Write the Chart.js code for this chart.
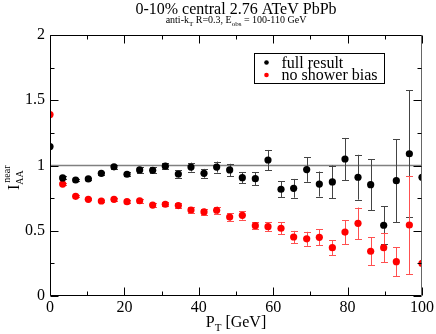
<!DOCTYPE html>
<html><head><meta charset="utf-8">
<script src="https://cdn.jsdelivr.net/npm/chart.js@4/dist/chart.umd.min.js"></script>
<style>html,body{margin:0;padding:0;background:#fff}#wrap{width:436px;height:334px;position:relative}</style>
</head><body><div id="wrap"><canvas id="c" width="436" height="334"></canvas></div>
<script>
// ---- data ----
const ptValues = [0, 3.4, 6.9, 10.3, 13.8, 17.2, 20.7, 24.1, 27.6, 31.0, 34.5, 37.9, 41.4, 44.8, 48.3, 51.7, 55.2, 58.6, 62.1, 65.5, 69.0, 72.4, 75.9, 79.3, 82.8, 86.2, 89.7, 93.1, 96.6, 100];
const fullResult = [1.145, 0.905, 0.889, 0.897, 0.94, 0.99, 0.933, 0.966, 0.963, 0.995, 0.935, 0.988, 0.94, 0.988, 0.966, 0.907, 0.899, 1.042, 0.818, 0.825, 0.969, 0.858, 0.874, 1.05, 0.91, 0.853, 0.542, 0.884, 1.09, 0.91];
const fullErr = [0.0, 0.012, 0.01, 0.01, 0.013, 0.014, 0.016, 0.02, 0.024, 0.025, 0.028, 0.034, 0.034, 0.042, 0.047, 0.042, 0.05, 0.077, 0.061, 0.072, 0.094, 0.096, 0.126, 0.161, 0.172, 0.194, 0.144, 0.318, 0.485, 0.0];
const noBias = [1.39, 0.858, 0.764, 0.741, 0.728, 0.741, 0.723, 0.73, 0.697, 0.703, 0.693, 0.659, 0.644, 0.657, 0.605, 0.618, 0.539, 0.531, 0.519, 0.452, 0.438, 0.45, 0.37, 0.49, 0.557, 0.343, 0.37, 0.263, 0.544, 0.25];
const noBiasErr = [0.0, 0.008, 0.008, 0.008, 0.01, 0.01, 0.012, 0.014, 0.015, 0.015, 0.018, 0.02, 0.025, 0.028, 0.028, 0.033, 0.028, 0.036, 0.046, 0.047, 0.054, 0.063, 0.057, 0.092, 0.121, 0.107, 0.11, 0.11, 0.375, 0.0];
const xTicks = [0, 20, 40, 60, 80, 100];
const xMinorTicks = [10, 30, 50, 70, 90];
const yTicks = [0, 0.5, 1, 1.5, 2];
const yMinorTicks = [0.25, 0.75, 1.25, 1.75];
const seriesNames = ['full result', 'no shower bias'];
const seriesColors = ['#000000', '#ff0000'];
const barColors = ['#444444', '#ff5050'];
const referenceLine = 1;

const SERIF = '"Liberation Serif", "DejaVu Serif", serif';

function toPoints(xs, ys) { return xs.map((x, i) => ({x: x, y: ys[i]})); }

const errorBars = {
  id: 'errorBars',
  beforeDatasetsDraw(chart) {
    const ctx = chart.ctx, xs = chart.scales.x, ys = chart.scales.y, a = chart.chartArea;
    ctx.save();
    // reference line at 1
    ctx.strokeStyle = '#808080';
    ctx.lineWidth = 1.6;
    ctx.beginPath();
    const yl = ys.getPixelForValue(referenceLine);
    ctx.moveTo(a.left, yl); ctx.lineTo(a.right, yl); ctx.stroke();
    const errs = [fullErr, noBiasErr];
    chart.data.datasets.forEach((ds, di) => {
      ctx.strokeStyle = barColors[di];
      ctx.lineWidth = 1;
      ds.data.forEach((p, i) => {
        const e = errs[di][i];
        if (!e) return;
        const px = Math.round(xs.getPixelForValue(p.x)) + 0.5;
        const y1 = ys.getPixelForValue(p.y - e), y2 = ys.getPixelForValue(p.y + e);
        ctx.beginPath();
        ctx.moveTo(px, y1); ctx.lineTo(px, y2);
        ctx.moveTo(px - 3.5, Math.round(y1) + 0.5); ctx.lineTo(px + 3.5, Math.round(y1) + 0.5);
        ctx.moveTo(px - 3.5, Math.round(y2) + 0.5); ctx.lineTo(px + 3.5, Math.round(y2) + 0.5);
        ctx.stroke();
      });
    });
    ctx.restore();
  }
};

function drawParts(ctx, parts, x, y, align) {
  // parts: [text, size, dy]
  let total = 0;
  parts.forEach(p => { ctx.font = p[1] + 'px ' + SERIF; total += ctx.measureText(p[0]).width; });
  let cx = align === 'center' ? x - total / 2 : x;
  parts.forEach(p => {
    ctx.font = p[1] + 'px ' + SERIF;
    ctx.fillText(p[0], cx, y + p[2]);
    cx += ctx.measureText(p[0]).width;
  });
}

const frameAndText = {
  id: 'frameAndText',
  afterDraw(chart) {
    const ctx = chart.ctx, xs = chart.scales.x, ys = chart.scales.y, a = chart.chartArea;
    ctx.save();
    const L = Math.round(a.left) + 0.5, R = Math.round(a.right) - 0.5, T = Math.round(a.top) + 0.5, B = Math.round(a.bottom) - 0.5;
    ctx.lineWidth = 1;
    ctx.strokeStyle = '#000';
    ctx.beginPath();
    ctx.moveTo(L, T); ctx.lineTo(R, T);
    ctx.moveTo(L, T); ctx.lineTo(L, B); ctx.lineTo(R, B);
    ctx.stroke();
    ctx.strokeStyle = '#666';
    ctx.beginPath(); ctx.moveTo(R, T); ctx.lineTo(R, B); ctx.stroke();
    // ticks inward
    ctx.strokeStyle = '#000';
    ctx.beginPath();
    const xt = (v, len) => {
      const px = Math.round(xs.getPixelForValue(v)) + 0.5;
      ctx.moveTo(px, B); ctx.lineTo(px, B - len);
      ctx.moveTo(px, T); ctx.lineTo(px, T + len);
    };
    const yt = (v, len) => {
      const py = Math.round(ys.getPixelForValue(v)) + 0.5;
      ctx.moveTo(L, py); ctx.lineTo(L + len, py);
      ctx.moveTo(R, py); ctx.lineTo(R - len, py);
    };
    xTicks.forEach(v => xt(v, 8)); xMinorTicks.forEach(v => xt(v, 4));
    yTicks.forEach(v => yt(v, 8)); yMinorTicks.forEach(v => yt(v, 4));
    ctx.stroke();

    ctx.fillStyle = '#000';
    ctx.textBaseline = 'alphabetic';
    ctx.textAlign = 'left';
    const cx = (a.left + a.right) / 2;
    // title
    drawParts(ctx, [[chart.options.plugins.frameAndText.title, 16, 0]], cx, 14, 'center');
    drawParts(ctx, [['anti-k', 10, 0], ['T', 7, 2.5], [' R=0.3, E', 10, 0], ['obs', 7, 2.5], [' = 100-110 GeV', 10, 0]], cx, 23, 'center');
    // x title
    drawParts(ctx, [['P', 16, 0], ['T', 11, 4], [' [GeV]', 16, 0]], cx, 327, 'center');
    // y title rotated
    ctx.save();
    ctx.translate(19, 190);
    ctx.rotate(-Math.PI / 2);
    drawParts(ctx, [['I', 16, 0], ['AA', 10, 4]], 0, 0, 'left');
    ctx.font = '16px ' + SERIF;
    const wI = ctx.measureText('I').width;
    ctx.font = '10px ' + SERIF;
    ctx.fillText('near', wI + 2, -9);
    ctx.restore();

    // legend
    const lx = 254.5, ly = 53.5, lw = 130, lh = 30;
    ctx.strokeStyle = '#000';
    ctx.lineWidth = 1;
    ctx.strokeRect(lx, ly, lw, lh);
    ctx.font = '16px ' + SERIF;
    seriesNames.forEach((n, i) => {
      const yy = ly + 9 + i * 12.5;
      ctx.fillStyle = seriesColors[i];
      ctx.beginPath(); ctx.arc(lx + 12, yy, 2.3, 0, Math.PI * 2); ctx.fill();
      ctx.fillStyle = '#000';
      ctx.fillText(n, lx + 27, yy + 5);
    });
    ctx.restore();
  }
};

new Chart(document.getElementById('c'), {
  type: 'scatter',
  data: {
    datasets: [
      { label: seriesNames[0], data: toPoints(ptValues, fullResult), backgroundColor: seriesColors[0], borderWidth: 0, pointRadius: 3.6 },
      { label: seriesNames[1], data: toPoints(ptValues, noBias), backgroundColor: seriesColors[1], borderWidth: 0, pointRadius: 3.6 }
    ]
  },
  options: {
    responsive: false,
    animation: false,
    devicePixelRatio: 1,
    layout: { padding: { top: 35, right: 13, left: 0, bottom: 0 } },
    plugins: {
      legend: { display: false },
      tooltip: { enabled: false },
      frameAndText: { title: '0-10% central 2.76 ATeV PbPb' }
    },
    scales: {
      x: {
        type: 'linear', min: 0, max: 100,
        afterBuildTicks: s => { s.ticks = xTicks.map(v => ({value: v})); },
        afterFit: s => { s.height = 38; },
        grid: { display: false, drawTicks: false },
        border: { display: false },
        ticks: { color: '#000', font: { family: SERIF, size: 16 }, padding: 2, maxRotation: 0, autoSkip: false, callback: v => String(v) }
      },
      y: {
        type: 'linear', min: 0, max: 2,
        afterBuildTicks: s => { s.ticks = yTicks.map(v => ({value: v})); },
        afterFit: s => { s.width = 50; },
        grid: { display: false, drawTicks: false },
        border: { display: false },
        ticks: { color: '#000', font: { family: SERIF, size: 16 }, padding: 5, autoSkip: false, callback: v => String(v) }
      }
    }
  },
  plugins: [errorBars, frameAndText]
});
</script>
</body></html>
